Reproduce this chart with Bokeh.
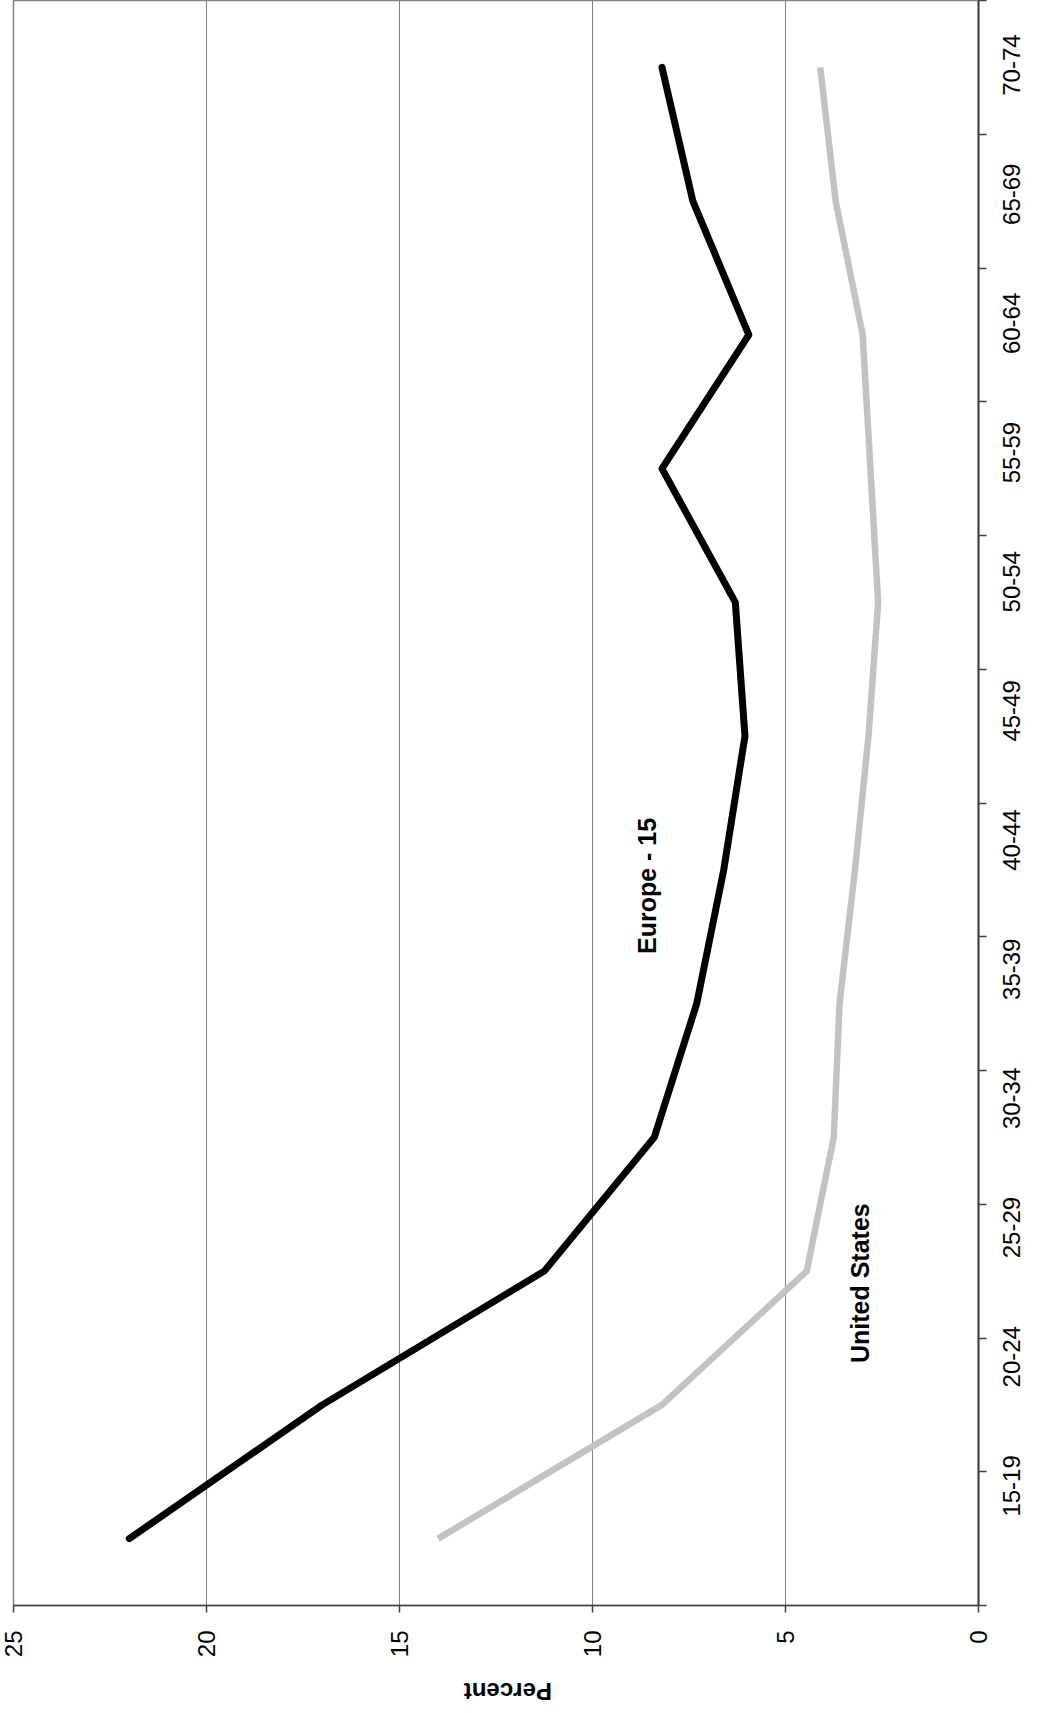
import math
from bokeh.plotting import figure
from bokeh.layouts import column, row
from bokeh.models import Range1d, FixedTicker, ColumnDataSource
from bokeh.core.properties import value
from bokeh.embed import file_html
from bokeh.resources import INLINE

# ---- data ----
age_groups = ["15-19", "20-24", "25-29", "30-34", "35-39", "40-44",
              "45-49", "50-54", "55-59", "60-64", "65-69", "70-74"]
europe15 = [22.0, 17.0, 11.25, 8.4, 7.3, 6.6, 6.05, 6.3, 8.2, 5.95, 7.4, 8.2]
united_states = [14.0, 8.2, 4.45, 3.75, 3.6, 3.2, 2.85, 2.6, 2.8, 3.0, 3.7, 4.1]
percent_ticks = [0, 5, 10, 15, 20, 25]
series_labels = ["Europe - 15", "United States"]
label_pos_pct = [8.58, 3.06]
label_pos_cat = [4.88, 1.91]
axis_title = "Percent"

FONT = "Liberation Sans"
idx = list(range(len(age_groups)))
yr = Range1d(-0.5, len(age_groups) - 0.5)

p = figure(width=993, frame_height=1605, output_backend="svg", toolbar_location=None,
           x_range=Range1d(25, 0), y_range=yr,
           y_axis_location="right",
           min_border_left=13, min_border_top=0, min_border_bottom=0,
           min_border_right=15)
p.background_fill_color = "white"
p.border_fill_color = "white"
p.outline_line_color = "#808080"
p.outline_line_width = 1.5

# percent axis (bottom)
xa = p.xaxis[0]
xa.ticker = FixedTicker(ticks=percent_ticks, minor_ticks=[])
xa.major_label_orientation = math.pi / 2
xa.major_label_text_font = FONT
xa.major_label_text_font_size = "24px"
xa.major_label_text_color = "black"
xa.major_tick_out = 7
xa.major_tick_in = 0
xa.major_label_standoff = 18
xa.axis_line_color = "#404040"
xa.axis_line_width = 1.5
xa.major_tick_line_color = "#404040"
xa.major_tick_line_width = 1.5
xa.minor_tick_line_color = None

# category axis line + boundary ticks (right); labels drawn in side strip
ya = p.yaxis[0]
ya.ticker = FixedTicker(ticks=[], minor_ticks=[i - 0.5 for i in range(len(age_groups) + 1)])
ya.major_label_standoff = 0
ya.major_tick_line_color = None
ya.major_tick_out = 8
ya.major_tick_in = 0
ya.minor_tick_line_color = "#404040"
ya.minor_tick_line_width = 1.5
ya.minor_tick_out = 8
ya.minor_tick_in = 0
ya.axis_line_color = "#404040"
ya.axis_line_width = 2

p.xgrid.grid_line_color = "#808080"
p.xgrid.grid_line_width = 1
p.xgrid.ticker = FixedTicker(ticks=percent_ticks)
p.ygrid.grid_line_color = None

# series
p.line(x=united_states, y=idx, line_color="#c2c2c2", line_width=6.5, line_join="miter")
p.line(x=europe15, y=idx, line_color="black", line_width=7, line_join="round", line_cap="round")

src = ColumnDataSource(dict(x=label_pos_pct, y=label_pos_cat, t=series_labels))
p.text(x="x", y="y", text="t", source=src, angle=math.pi / 2,
       text_align="center", text_baseline="middle",
       text_font=value(FONT), text_font_style="bold", text_font_size="25px",
       text_color="black")

# category labels strip (right)
p3 = figure(width=32, height=1605, output_backend="svg", toolbar_location=None,
            x_range=Range1d(0, 1), y_range=yr, min_border=0)
p3.axis.visible = False
p3.grid.grid_line_color = None
p3.outline_line_color = None
p3.background_fill_color = "white"
p3.border_fill_color = "white"
p3.text(x=[0.56] * len(age_groups), y=idx, text=age_groups, angle=math.pi / 2,
        text_align="center", text_baseline="middle",
        text_font=value(FONT), text_font_size="24px", text_color="black")

# axis title strip (upside-down "Percent")
p2 = figure(width=1025, height=46, output_backend="svg", toolbar_location=None,
            x_range=Range1d(0, 1), y_range=Range1d(0, 1), min_border=0)
p2.axis.visible = False
p2.grid.grid_line_color = None
p2.outline_line_color = None
p2.background_fill_color = "white"
p2.border_fill_color = "white"
p2.text(x=[0.495], y=[0.33], text=[axis_title], angle=math.pi,
        text_align="center", text_baseline="middle",
        text_font=value(FONT), text_font_style="bold", text_font_size="24px",
        text_color="black")

layout = column(row(p, p3, spacing=0), p2, spacing=0)
open("out.html", "w").write(file_html(layout, INLINE))
